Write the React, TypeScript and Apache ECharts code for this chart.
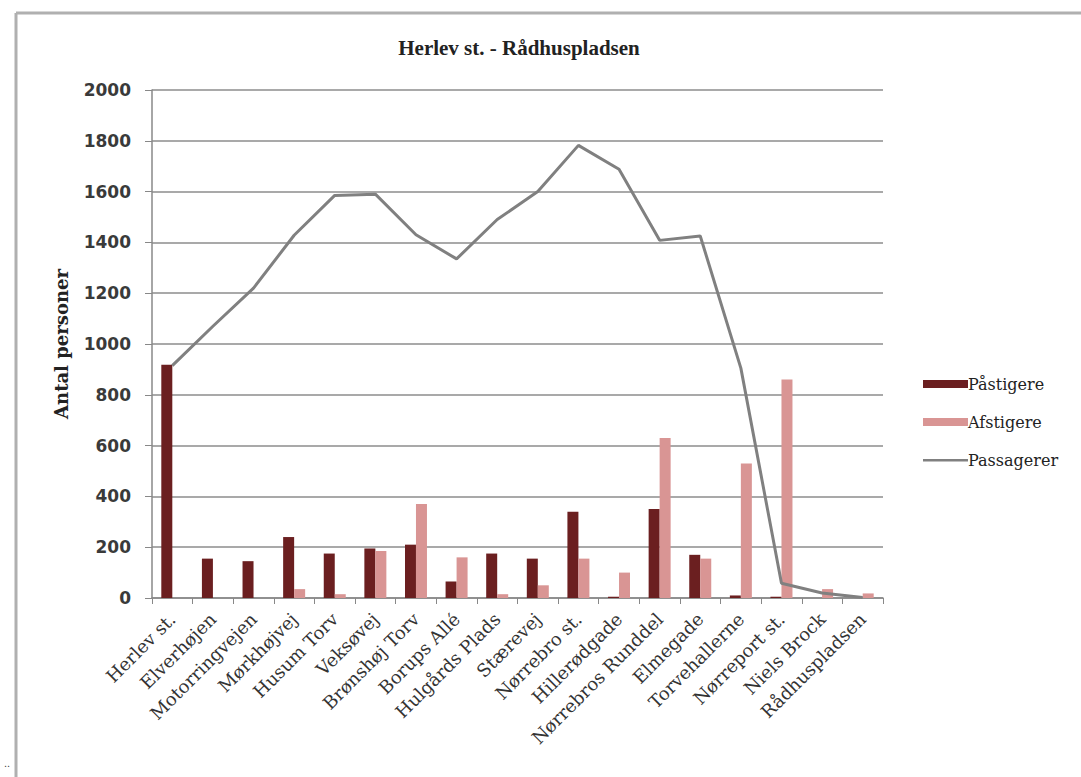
import React, { useEffect, useRef } from "react";
import * as echarts from "echarts";

const categories = [
  "Herlev st.", "Elverhøjen", "Motorringvejen", "Mørkhøjvej", "Husum Torv", "Veksøvej",
  "Brønshøj Torv", "Borups Allé", "Hulgårds Plads", "Stærevej", "Nørrebro st.", "Hillerødgade",
  "Nørrebros Runddel", "Elmegade", "Torvehallerne", "Nørreport st.", "Niels Brock", "Rådhuspladsen",
];
const paastigere = [918, 155, 145, 240, 175, 195, 210, 65, 175, 155, 340, 5, 350, 170, 10, 5, 0, 0];
const afstigere = [0, 0, 0, 35, 15, 185, 370, 160, 15, 50, 155, 100, 630, 155, 530, 860, 35, 18];
const passagerer = [915, 1070, 1220, 1428, 1585, 1590, 1430, 1335, 1490, 1600, 1782, 1688, 1408, 1425, 905, 58, 20, 2];
const yTicks = { min: 0, max: 2000, interval: 200 };

export default function App() {
  const ref = useRef<HTMLDivElement>(null);
  useEffect(() => {
    if (!ref.current) return;
    const chart = echarts.init(ref.current, undefined, { renderer: "svg" });
    chart.setOption({
      animation: false,
      backgroundColor: "#ffffff",
      title: {
        text: "Herlev st. - Rådhuspladsen",
        left: 514,
        textAlign: "center",
        top: 32,
        textStyle: { fontFamily: "Liberation Serif", fontWeight: "bold", fontSize: 21, color: "#222" },
      },
      grid: { left: 152, right: 198, top: 90, bottom: 179, containLabel: false },
      legend: {
        orient: "vertical",
        left: 918,
        top: 371,
        itemWidth: 45,
        itemHeight: 8,
        itemGap: 22,
        textStyle: { fontFamily: "DejaVu Serif", fontSize: 16, color: "#222", padding: [0, 0, 0, -5] },
        data: [
          { name: "Påstigere", icon: "rect" },
          { name: "Afstigere", icon: "rect" },
          { name: "Passagerer", icon: "path://M0,0 M0,3 L45,3 L45,5.5 L0,5.5 Z M45,8", itemStyle: { color: "#808080" } },
        ],
      },
      xAxis: {
        type: "category",
        data: categories,
        axisLine: { lineStyle: { color: "#888", width: 1.5 } },
        axisTick: { show: true, length: 6, lineStyle: { color: "#888" } },
        axisLabel: {
          rotate: 45,
          interval: 0,
          fontFamily: "DejaVu Serif",
          fontSize: 18,
          color: "#333",
          margin: 18,
        },
      },
      yAxis: {
        type: "value",
        min: yTicks.min,
        max: yTicks.max,
        interval: yTicks.interval,
        name: "Antal personer",
        nameLocation: "middle",
        nameGap: 82,
        nameRotate: 90,
        nameTextStyle: { fontFamily: "DejaVu Serif", fontWeight: "bold", fontSize: 18, color: "#222" },
        axisLine: { show: true, lineStyle: { color: "#888", width: 1.5 } },
        axisTick: { show: true, length: 7, lineStyle: { color: "#888" } },
        axisLabel: {
          fontFamily: "DejaVu Sans",
          fontWeight: "bold",
          fontSize: 17,
          color: "#3a3a3a",
          margin: 21,
          formatter: (v: number) => String(v),
        },
        splitLine: { lineStyle: { color: "#8c8c8c", width: 1.5 } },
      },
      series: [
        {
          name: "Påstigere",
          type: "bar",
          data: paastigere,
          barWidth: 11,
          barGap: "0%",
          itemStyle: { color: "#6b1f20" },
        },
        {
          name: "Afstigere",
          type: "bar",
          data: afstigere,
          barWidth: 11,
          itemStyle: { color: "#d99594" },
        },
        {
          name: "Passagerer",
          type: "line",
          data: passagerer,
          symbol: "none",
          lineStyle: { color: "#808080", width: 3 },
          itemStyle: { color: "#808080" },
          z: 5,
        },
      ],
      graphic: [
        { type: "line", shape: { x1: 16, y1: 13, x2: 1081, y2: 13 }, style: { stroke: "#b0b0b0", lineWidth: 3 } },
        { type: "line", shape: { x1: 16, y1: 13, x2: 16, y2: 777 }, style: { stroke: "#b0b0b0", lineWidth: 3 } },
        { type: "text", left: 4, top: 757, style: { text: "..", fontSize: 11, fill: "#444" } },
      ],
    });
    return () => chart.dispose();
  }, []);
  return (
    <div
      ref={ref}
      style={{ position: "absolute", left: 0, top: 0, width: 1081, height: 777 }}
    />
  );
}
